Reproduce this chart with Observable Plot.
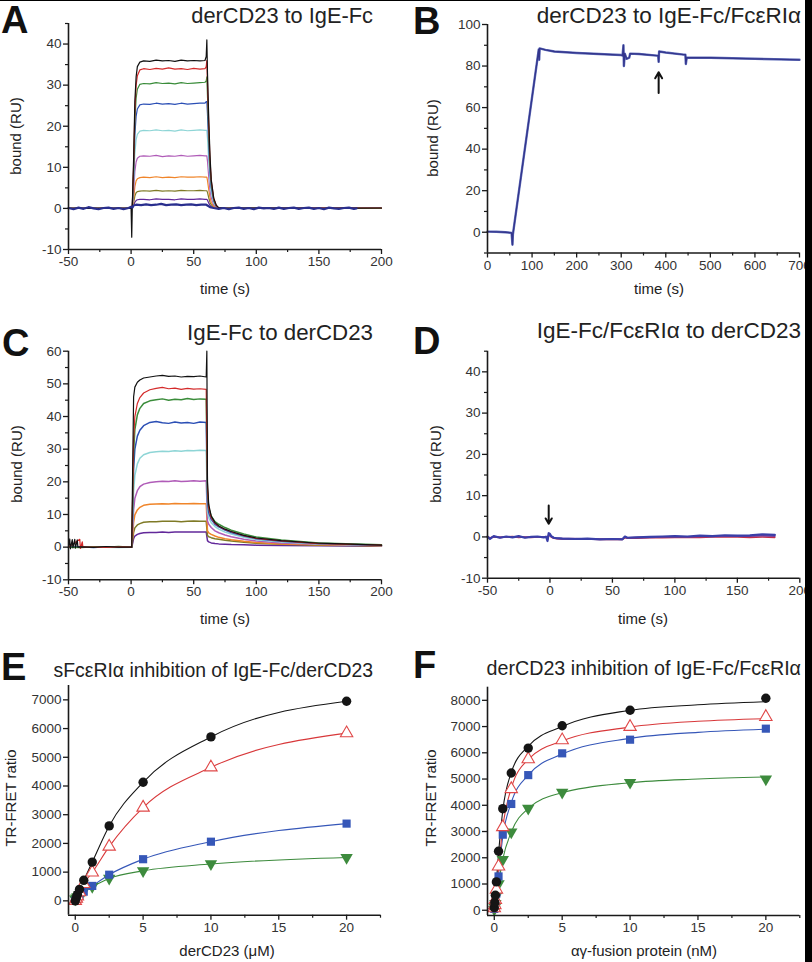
<!DOCTYPE html>
<html><head><meta charset="utf-8">
<script src="https://cdn.jsdelivr.net/npm/d3@7"></script>
<script src="https://cdn.jsdelivr.net/npm/@observablehq/plot@0.6"></script>
<style>
html,body{margin:0;padding:0;background:#fff;}
body{width:812px;height:962px;position:relative;overflow:hidden;}
.bar{position:absolute;background:#000;}
</style>
</head><body>
<script>
// ---------------- DATA ----------------
// Panel A: derCD23 to IgE-Fc (time s, bound RU)
const tA = [-50,-30,-10,0,0.5,1,2,3,4,5,7,10,15,20,25,30,35,40,45,50,55,59,60,60.5,61,62,63,64,66,68,70,75,100,150,200];
const aBlack   = [0,0,0,0,-7,1,12,26,32,34.5,35.6,35.9,35.8,36.1,35.9,36.0,35.8,36.1,35.9,36.0,35.9,36.0,37,41,33,22,13,7,2.5,0.8,0.2,0,0.1,0,0.1];
const aRed     = [0,0,0,0,0,1,10.2,23.8,29.9,32.3,33.7,34.0,33.8,34.1,33.9,34.2,33.9,34.0,33.8,34.1,33.9,34.0,34.5,36,30.6,20.4,11.9,6.8,2.4,0.7,0,0,0,0.1,0.1];
const aGreen   = [0,0,0,0,0,0.9,9.2,21.4,26.8,29,30.2,30.4,30.3,30.6,30.4,30.5,30.3,30.6,30.4,30.5,30.6,30.7,31,32,27.5,18.3,10.7,6.1,2.1,0.6,0,0,0,0,0];
const aBlue    = [0,0,0,0,0,0.8,7.7,17.9,22.4,24.2,25.2,25.4,25.3,25.6,25.4,25.5,25.3,25.6,25.4,25.5,25.6,25.6,26,26,23,15.3,8.9,5.1,1.8,0.5,0,0,0,0,0];
const aCyan    = [0,0,0,0,0,0.6,5.7,13.3,16.7,18,18.8,19,18.9,19.1,18.9,19,18.8,19.1,18.9,19,19.1,19,19,19,17.1,11.4,6.7,3.8,1.3,0.4,0,0,0,0,0];
const aMagenta = [0,0,0,0,0,0.4,3.8,9,11.3,12.2,12.7,12.8,12.7,12.9,12.6,12.8,12.7,12.9,12.7,12.8,12.9,12.8,12.8,12.8,11.5,7.7,4.5,2.6,0.9,0.3,0,0,0,0,0];
const aOrange  = [0,0,0,0,0,0.2,2.3,5.3,6.7,7.2,7.5,7.6,7.5,7.7,7.5,7.6,7.5,7.7,7.6,7.6,7.7,7.6,7.6,7.6,6.8,4.6,2.7,1.5,0.5,0.2,0,0,0,0,0];
const aOlive   = [0,0,0,0,0,0.1,1.3,3,3.8,4.1,4.2,4.3,4.2,4.4,4.2,4.3,4.2,4.4,4.3,4.3,4.4,4.3,4.3,4.3,3.9,2.6,1.5,0.9,0.3,0.1,0,0,0,0,0];
const aPurple  = [0,0,0,0,0,0.1,0.7,1.5,1.9,2.1,2.2,2.2,2.1,2.3,2.2,2.2,2.1,2.3,2.2,2.2,2.3,2.2,2.2,2.2,2,1.3,0.8,0.4,0.2,0,0,0,0,0,0];
const tANavy = [-50,-46,-42,-38,-34,-30,-26,-22,-18,-14,-10,-6,-2,0,1,2,4,8,12,16,20,24,28,32,36,40,44,48,52,56,60,61,63,66,70,74,78,82,86,90,94,98,102,106,110,114,118,122,126,130,134,138,142,146,150,154,158,162,166,170,174,178,180];
const aNavy = [0.1,-0.2,0.2,-0.1,0.3,0,-0.2,0.1,0.2,-0.1,0.1,-0.2,0.1,0.4,0.2,0.7,0.9,0.8,1.0,0.8,0.9,1.1,0.8,0.9,1.0,0.8,0.9,1.0,0.8,0.9,0.9,0.7,0.3,0.1,-0.1,0.1,-0.2,0.1,0.2,-0.1,0.1,-0.2,0.2,0,0.1,-0.1,0.2,-0.1,0.1,0.2,-0.1,0.1,0.2,-0.1,0.1,-0.2,0.2,0,-0.1,0.1,0.2,-0.1,0];

// Panel B: derCD23 to IgE-Fc/FcεRIα
const tB = [0,20,40,54,56,57,115,116,117,130,150,200,250,300,303,305,306,308,312,318,320,340,380,383,384,385,400,440,444,445,447,500,600,700];
const bNavy = [0.3,0.2,0,-0.3,-6,-1,88,83,88.5,87.8,87,86.3,85.8,85.3,85,90,80,86,83.5,84,86,85.8,85,85,82,87,86.5,85.5,85.5,81,84,84,83.5,83];
const arrowB = {t: 384, from: 67, to: 77};

// Panel C: IgE-Fc to derCD23
const tC = [-50,-40,-30,-20,-10,0,0.5,1,2,3,5,7,10,15,20,25,30,35,40,45,50,55,60,61,62,64,67,70,75,80,90,100,120,150,200];
const cBlack   = [0,0.1,-0.1,0.2,0,0,0,16,46,49,50.5,51.2,51.8,52.1,52.4,52.6,52.3,52.4,52.1,52.3,52.2,52.4,52.1,20,13,9.5,7.5,6.5,5.5,4.8,3.6,2.8,2,1.2,0.6];
const cRed     = [0,0.2,0,-0.1,0.1,0,0,10,33,40,44,45.8,47.2,48.2,48.6,48.9,48.5,48.7,48.3,48.6,48.4,48.5,48.3,18,12,9,7.3,6.4,5.4,4.7,3.5,2.7,1.9,1.1,0.6];
const cGreen   = [0,-0.1,0.1,0,0.2,0,0,9,29,36,40.5,42.5,44,44.8,45.1,45.4,45.0,45.3,45.1,45.5,45.2,45.4,45.3,17,12,9.5,7.8,7,6,5.2,4,3.1,2.2,1.3,0.7];
const cBlue    = [0,0.1,-0.1,0.1,0,0,0,7,24,30,34,35.8,37.2,38.2,38.5,38.1,37.9,38.3,38,38.2,37.9,38.3,38.2,14,10.5,8.5,7,6.2,5.2,4.5,3.4,2.6,1.8,1.1,0.6];
const cCyan    = [0,0,0.1,0,-0.1,0,0,5,17,22,25.5,27.2,28.3,29,29.2,29.4,29.3,29.5,29.4,29.6,29.5,29.7,29.6,11,9,7.5,6.3,5.5,4.6,4,3,2.3,1.6,1,0.5];
const cMagenta = [0,0,0,0,0,0,0,3.5,11.5,15,17.3,18.5,19.3,19.8,20,20.2,20.1,20.3,20.1,20.2,20.3,20.2,20.3,8,7,6,5,4.4,3.7,3.2,2.4,1.9,1.3,0.9,0.5];
const cOrange  = [0,0,0,0,0,0,0,2.3,7.6,9.9,11.4,12.2,12.8,13.1,13.2,13.3,13.2,13.4,13.3,13.3,13.4,13.3,13.3,5,4.4,3.9,3.4,3,2.6,2.3,1.8,1.4,1,0.7,0.4];
const cOlive   = [0,0,0,0,0,0,0,1.4,4.5,5.9,6.8,7.2,7.6,7.8,7.8,7.9,7.9,7.9,7.8,7.9,8.0,7.9,7.9,3.5,3.2,2.9,2.6,2.4,2.1,1.9,1.5,1.2,0.9,0.6,0.4];
const cPurple  = [0,0,0,0,0,0,0,0.8,2.6,3.4,3.9,4.2,4.4,4.5,4.5,4.6,4.5,4.6,4.6,4.6,4.6,4.6,4.6,2,1.6,1.3,1.1,1,0.9,0.8,0.7,0.6,0.5,0.4,0.3];
const cBlackExtraT = [-49,-48.5,-47,-46.5,-45,-44.5,-43,-42.5,60.5];
const cBlackExtraV = [2.5,-0.5,2.3,-0.2,2.4,-0.3,2.2,0,60];
const cRedExtraT = [-41,-40.5,-39,-38.5];
const cRedExtraV = [2.4,-0.4,1.6,0];

// Panel D: IgE-Fc/FcεRIα to derCD23
const tD = [-50,-48,-45,-40,-35,-30,-25,-20,-15,-10,-5,-3,-2,-1,0,1,3,5,10,20,30,40,50,58,60,62,70,80,90,100,110,120,130,140,150,160,170,180];
const dBlue   = [0.1,-0.5,0.2,-0.2,0.1,-0.1,0.2,-0.2,0,0.1,-0.1,0,-1,0.9,0.7,0.2,-0.2,-0.3,-0.4,-0.5,-0.4,-0.6,-0.5,-0.6,0.1,-0.2,-0.1,0,0.1,0.2,0.1,0.3,0.2,0.4,0.3,0.4,0.6,0.5];
const dRed    = [0,-0.2,0,-0.1,0,0.1,-0.1,0,-0.1,0,0,0,-0.5,0.4,0.3,0,-0.3,-0.4,-0.5,-0.5,-0.5,-0.6,-0.6,-0.6,-0.2,-0.3,-0.3,-0.2,-0.2,-0.1,-0.1,-0.1,0,0,0,-0.1,0,-0.1];
const dPurple = [0,-0.3,0.1,-0.1,0,0,0.1,-0.1,0,0,0,0.1,-0.7,0.6,0.5,0.1,-0.2,-0.3,-0.4,-0.4,-0.5,-0.5,-0.5,-0.5,0,-0.2,-0.1,-0.1,0,0.1,0,0.1,0.1,0.2,0.2,0.2,0.3,0.2];
const arrowD = {t: -1, from: 7.6, to: 3.2};

// Panel E: sFcεRIα inhibition of IgE-Fc/derCD23 (derCD23 µM, TR-FRET ratio)
const concE = [0,0.078,0.156,0.3125,0.625,1.25,2.5,5,10,20];
const eBlack = [0,110,220,400,715,1350,2610,4130,5710,6950];
const eRed   = [0,80,160,300,590,990,1890,3250,4650,5840];
const eBlue  = [0,40,90,170,320,520,910,1450,2060,2690];
const eGreen = [60,100,140,220,350,500,780,1045,1285,1510];

// Panel F: derCD23 inhibition of IgE-Fc/FcεRIα (αγ-fusion protein nM)
const concF = [0,0.039,0.078,0.156,0.3125,0.625,1.25,2.5,5,10,20];
const fBlack = [100,300,570,1080,2250,3870,5230,6180,7030,7620,8080];
const fRed   = [80,200,400,790,1670,3170,4620,5760,6480,6990,7370];
const fBlue  = [50,150,300,640,1290,2880,4050,5150,5980,6500,6920];
const fGreen = [30,100,250,560,1010,1930,2980,3880,4490,4870,5000];
const fitXF = [0,0.156,0.3125,0.625,1.25,2.5,5,10,15,20];
const fitBlackF = [0,1100,2150,3800,5250,6250,7000,7620,7830,7950];
const fitRedF   = [0,780,1600,3150,4650,5750,6450,6980,7200,7300];
const fitBlueF  = [0,650,1350,2800,4100,5150,5950,6550,6780,6900];
const fitGreenF = [0,500,1000,1950,2980,3880,4480,4860,5000,5080];

// Tick values
const ticksTime = [-50,0,50,100,150,200], minorTime = [-25,25,75,125,175];
const ticksRU45 = [-10,0,10,20,30,40], minorRU45 = [-5,5,15,25,35,45];
const ticksB_x = [0,100,200,300,400,500,600,700], minorB_x = [50,150,250,350,450,550,650];
const ticksB_y = [0,20,40,60,80,100], minorB_y = [-10,10,30,50,70,90];
const ticksC_y = [-10,0,10,20,30,40,50,60], minorC_y = [-5,5,15,25,35,45,55];
const ticksConc = [0,5,10,15,20], minorConc = [2.5,7.5,12.5,17.5,22.5];
const ticksE_y = [0,1000,2000,3000,4000,5000,6000,7000];
const ticksF_y = [0,1000,2000,3000,4000,5000,6000,7000,8000];

// ---------------- STYLE ----------------
const FONT = '"Liberation Sans", Arial, Helvetica, sans-serif';
const COL = {black:"#111111", red:"#d42a2a", green:"#3a8c3a", blue:"#2b4fb5", cyan:"#8ed5d6", magenta:"#b05cb8",
             orange:"#f0852a", olive:"#7f7a26", purple:"#62289a", navy:"#2a2f8e"};
const rows = (t, v) => t.map((x, i) => ({t: x, v: v[i]}));
const merged = (t, v, et, ev) => rows(t, v).concat(rows(et, ev)).sort((a, b) => a.t - b.t);
const downTri = {draw(ctx, size) {
  const y = Math.sqrt(size / (Math.sqrt(3) * 3));
  ctx.moveTo(0, y * 2); ctx.lineTo(-Math.sqrt(3) * y, -y); ctx.lineTo(Math.sqrt(3) * y, -y); ctx.closePath();
}};

function panel(p) {
  const fmt = d => String(d);
  const chart = Plot.plot({
    width: p.w, height: p.h,
    marginTop: p.m[0], marginRight: p.m[1], marginBottom: p.m[2], marginLeft: p.m[3],
    x: {domain: p.xd}, y: {domain: p.yd},
    style: {fontFamily: FONT, fontSize: "13.5px", color: "#333", background: "none", overflow: "visible"},
    marks: [
      ...p.marks,
      Plot.ruleX([p.xd[0]], {stroke: "#1a1a1a", strokeWidth: 1.6}),
      Plot.ruleY([p.yd[0]], {stroke: "#1a1a1a", strokeWidth: 1.6}),
      Plot.axisX({ticks: p.xt, tickSize: 5, tickPadding: 2, tickFormat: fmt, label: null, stroke: "#1a1a1a", strokeWidth: 1.3, fill: "#333"}),
      Plot.axisX({ticks: p.xm, tickSize: 3, tickFormat: () => "", label: null, stroke: "#1a1a1a", strokeWidth: 1.2}),
      Plot.axisY({ticks: p.yt, tickSize: 5, tickPadding: 2, tickFormat: fmt, label: null, stroke: "#1a1a1a", strokeWidth: 1.3, fill: "#333"}),
      ...(p.ym ? [Plot.axisY({ticks: p.ym, tickSize: 3, tickFormat: () => "", label: null, stroke: "#1a1a1a", strokeWidth: 1.2})] : [])
    ]
  });
  chart.style.position = "absolute";
  chart.style.left = p.x0 + "px";
  chart.style.top = p.y0 + "px";
  chart.style.maxWidth = "none";
  document.body.appendChild(chart);
}
const line = (data, color, w = 1.2) => Plot.line(data, {x: "t", y: "v", stroke: color, strokeWidth: w});

// Panel A
panel({x0: 0, y0: 0, w: 406, h: 310, m: [23, 25, 61, 68], xd: [-50, 200], yd: [-10, 45],
  xt: ticksTime, xm: minorTime, yt: ticksRU45, ym: minorRU45,
  marks: [
    line(rows(tA, aPurple), COL.purple), line(rows(tA, aOlive), COL.olive), line(rows(tA, aOrange), COL.orange),
    line(rows(tA, aMagenta), COL.magenta), line(rows(tA, aCyan), COL.cyan), line(rows(tA, aBlue), COL.blue),
    line(rows(tA, aGreen), COL.green), line(rows(tA, aRed), COL.red), line(rows(tA, aBlack), COL.black),
    line(rows(tANavy, aNavy), COL.navy, 2.2)
  ]});

// Panel B
panel({x0: 406, y0: 0, w: 406, h: 310, m: [24, 13, 57.5, 81], xd: [0, 700], yd: [-10, 100],
  xt: ticksB_x, xm: minorB_x, yt: ticksB_y, ym: minorB_y,
  marks: [
    line(rows(tB, bNavy), "#6270bb", 2.4),
    line(rows(tB, bNavy), "#33358c", 1.3),
    Plot.arrow([arrowB], {x1: "t", x2: "t", y1: "from", y2: "to", stroke: "#111", strokeWidth: 2, headLength: 7})
  ]});

// Panel C
panel({x0: 0, y0: 310, w: 406, h: 310, m: [40.7, 25, 40.7, 68], xd: [-50, 200], yd: [-10, 60],
  xt: ticksTime, xm: minorTime, yt: ticksC_y, ym: minorC_y,
  marks: [
    line(rows(tC, cPurple), COL.purple, 1.5), line(rows(tC, cOlive), COL.olive, 1.5), line(rows(tC, cOrange), COL.orange, 1.5),
    line(rows(tC, cMagenta), COL.magenta, 1.5), line(rows(tC, cCyan), COL.cyan, 1.5), line(rows(tC, cBlue), COL.blue, 1.5),
    line(rows(tC, cGreen), COL.green, 1.5), line(merged(tC, cRed, cRedExtraT, cRedExtraV), COL.red, 1.2),
    line(merged(tC, cBlack, cBlackExtraT, cBlackExtraV), COL.black, 1.2)
  ]});

// Panel D
panel({x0: 406, y0: 310, w: 406, h: 310, m: [40.7, 12.7, 42.3, 81], xd: [-50, 200], yd: [-10, 45],
  xt: ticksTime, xm: minorTime, yt: ticksRU45, ym: minorRU45,
  marks: [
    line(rows(tD, dRed), "#c0304a", 1.6),
    line(rows(tD, dPurple), "#7a3a9a", 1.6),
    line(rows(tD, dBlue), "#3a3fa8", 2.2),
    Plot.arrow([arrowD], {x1: "t", x2: "t", y1: "from", y2: "to", stroke: "#111", strokeWidth: 2, headLength: 7})
  ]});

// Panel E
const dots = (x, y, sym, fill, stroke, r) => Plot.dot(rows(x, y), {x: "t", y: "v", symbol: sym, fill, stroke, r, strokeWidth: 1.1});
const curve = (x, y, color) => Plot.line(rows(x, y), {x: "t", y: "v", stroke: color, strokeWidth: 1.1, curve: "monotone-x"});
const EF = {black: "#151515", red: "#d8383a", blue: "#3657b8", green: "#3d8b3d"};
panel({x0: 0, y0: 620, w: 406, h: 342, m: [65, 26, 47.3, 68], xd: [-0.5, 22.5], yd: [-500, 7500],
  xt: ticksConc, xm: minorConc, yt: ticksE_y,
  marks: [
    curve(concE, eBlack, EF.black), curve(concE, eRed, EF.red), curve(concE, eBlue, EF.blue), curve(concE, eGreen, EF.green),
    dots(concE, eGreen, downTri, EF.green, "none", 4.6),
    dots(concE, eBlue, "square", EF.blue, "none", 4.6),
    dots(concE, eRed, "triangle", "white", "#e04848", 4.6),
    dots(concE, eBlack, "circle", EF.black, "none", 4.7)
  ]});

// Panel F
panel({x0: 406, y0: 620, w: 406, h: 342, m: [66.7, 12.7, 47, 81], xd: [-0.5, 22.5], yd: [-200, 8500],
  xt: ticksConc, xm: minorConc, yt: ticksF_y,
  marks: [
    curve(fitXF, fitGreenF, EF.green), curve(fitXF, fitBlueF, EF.blue), curve(fitXF, fitRedF, EF.red), curve(fitXF, fitBlackF, EF.black),
    dots(concF, fGreen, downTri, EF.green, "none", 4.6),
    dots(concF, fBlue, "square", EF.blue, "none", 4.6),
    dots(concF, fRed, "triangle", "white", "#e04848", 4.6),
    dots(concF, fBlack, "circle", EF.black, "none", 4.7)
  ]});

// ---------------- TEXT OVERLAY ----------------
const texts = [
  {s: "A", x: 1, y: 33, size: 38, bold: true},
  {s: "B", x: 413, y: 33.5, size: 38, bold: true},
  {s: "C", x: 2, y: 356, size: 38, bold: true},
  {s: "D", x: 413, y: 354, size: 38, bold: true},
  {s: "E", x: 1, y: 680, size: 38, bold: true},
  {s: "F", x: 413, y: 678, size: 38, bold: true},
  {s: "derCD23 to IgE-Fc", x: 373, y: 23, size: 21.8, anchor: "end"},
  {s: "derCD23 to IgE-Fc/FcεRIα", x: 801, y: 23, size: 22.5, anchor: "end"},
  {s: "IgE-Fc to derCD23", x: 373, y: 340, size: 22.3, anchor: "end"},
  {s: "IgE-Fc/FcεRIα to derCD23", x: 801, y: 338, size: 22.5, anchor: "end"},
  {s: "sFcεRIα inhibition of IgE-Fc/derCD23", x: 373, y: 677, size: 19.4, anchor: "end"},
  {s: "derCD23 inhibition of IgE-Fc/FcεRIα", x: 801, y: 675, size: 19.7, anchor: "end"},
  {s: "time (s)", x: 225, y: 294, size: 15, anchor: "middle"},
  {s: "time (s)", x: 659, y: 294, size: 15, anchor: "middle"},
  {s: "time (s)", x: 225, y: 624, size: 15, anchor: "middle"},
  {s: "time (s)", x: 643, y: 624, size: 15, anchor: "middle"},
  {s: "derCD23 (μM)", x: 227, y: 956, size: 15, anchor: "middle"},
  {s: "αγ-fusion protein (nM)", x: 644, y: 956, size: 15, anchor: "middle"},
  {s: "bound (RU)", x: 21, y: 136, size: 15, anchor: "middle", rot: true},
  {s: "bound (RU)", x: 438, y: 138, size: 15, anchor: "middle", rot: true},
  {s: "bound (RU)", x: 22, y: 464, size: 15, anchor: "middle", rot: true},
  {s: "bound (RU)", x: 441, y: 464, size: 15, anchor: "middle", rot: true},
  {s: "TR-FRET ratio", x: 16, y: 798, size: 15, anchor: "middle", rot: true},
  {s: "TR-FRET ratio", x: 436, y: 798, size: 15, anchor: "middle", rot: true}
];
const ov = d3.select("body").append("svg").attr("width", 812).attr("height", 962)
  .style("position", "absolute").style("left", "0px").style("top", "0px").style("pointer-events", "none");
ov.selectAll("text").data(texts).join("text")
  .attr("transform", d => `translate(${d.x},${d.y})` + (d.rot ? " rotate(-90)" : ""))
  .attr("text-anchor", d => d.anchor || "start")
  .attr("font-family", FONT)
  .attr("font-size", d => d.size)
  .attr("font-weight", d => d.bold ? "bold" : "normal")
  .attr("fill", d => d.bold ? "#111" : "#222")
  .text(d => d.s);

// scan border artefacts
const topBar = document.createElement("div"); topBar.className = "bar";
Object.assign(topBar.style, {left: "0px", top: "0px", width: "700px", height: "1px"});
document.body.appendChild(topBar);
const rightBar = document.createElement("div"); rightBar.className = "bar";
Object.assign(rightBar.style, {left: "805px", top: "0px", width: "7px", height: "962px"});
document.body.appendChild(rightBar);
</script>
</body></html>
